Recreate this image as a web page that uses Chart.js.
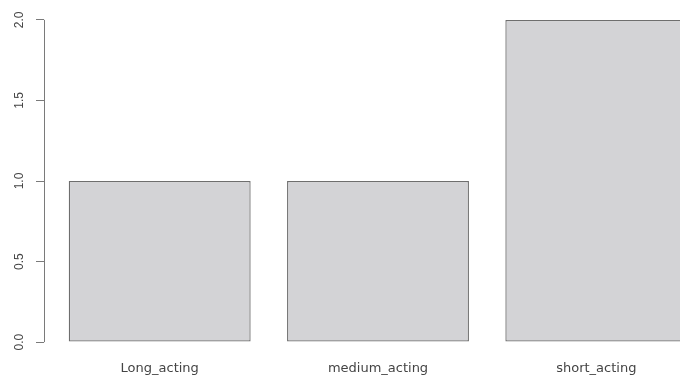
<!DOCTYPE html>
<html>
<head>
<meta charset="utf-8">
<script src="https://cdn.jsdelivr.net/npm/chart.js@4"></script>
<style>
  html, body { margin: 0; padding: 0; background: #fff; overflow: hidden; }
  #wrap { width: 680px; height: 377px; overflow: hidden; }
</style>
</head>
<body>
<div id="wrap">
  <canvas id="barChart" width="720" height="377"></canvas>
</div>
<script>
// data
const categories = ['Long_acting', 'medium_acting', 'short_acting'];
const counts = [1, 1, 2];
const yTicks = [0, 0.5, 1, 1.5, 2];

// R barplot geometry: width 1, space 0.2, axes padded by 4%
const barWidth = 1;
const barSpace = 0.2;
const centers = categories.map((c, i) => barSpace + barWidth / 2 + i * (barWidth + barSpace));
const xLo = barSpace;
const xHi = categories.length * (barWidth + barSpace);
const xPad = (xHi - xLo) * 0.04;
const yHi = Math.max(...counts);
const yPad = yHi * 0.04;

const axisColor = '#7a7a7a';

// y axis line drawn only between first and last tick, like R
const rAxisLine = {
    id: 'rAxisLine',
    afterDraw(chart) {
        const y = chart.scales.y;
        const x0 = chart.chartArea.left;
        const c = chart.ctx;
        c.save();
        c.strokeStyle = axisColor;
        c.lineWidth = 1;
        c.beginPath();
        c.moveTo(x0 + 0.5, y.getPixelForValue(yTicks[0]));
        c.lineTo(x0 + 0.5, y.getPixelForValue(yTicks[yTicks.length - 1]));
        c.stroke();
        c.restore();
    }
};

const ctx = document.getElementById('barChart');

new Chart(ctx, {
    type: 'bar',
    data: {
        datasets: [{
            data: centers.map((x, i) => ({ x: x, y: counts[i] })),
            backgroundColor: '#d3d3d6',
            borderColor: '#6e6e6e',
            borderWidth: 1.3,
            borderSkipped: false,
            barPercentage: barWidth / (barWidth + barSpace),
            categoryPercentage: 1
        }]
    },
    options: {
        responsive: false,
        animation: false,
        devicePixelRatio: 1,
        layout: { padding: { top: 7, right: 8, left: 0, bottom: 0 } },
        plugins: {
            legend: { display: false },
            tooltip: { enabled: false }
        },
        scales: {
            x: {
                type: 'linear',
                offset: false,
                min: xLo - xPad,
                max: xHi + xPad,
                afterBuildTicks: (scale) => { scale.ticks = centers.map(v => ({ value: v })); },
                afterFit: (scale) => {
                    scale.height = 22;
                    scale.paddingLeft = 0;
                    scale.paddingRight = 0;
                },
                grid: { display: false, drawTicks: false, offset: false },
                border: { display: false },
                ticks: {
                    autoSkip: false,
                    maxRotation: 0,
                    padding: 6,
                    color: '#444',
                    font: { family: 'DejaVu Sans', size: 13 },
                    callback: (v, i) => categories[i]
                }
            },
            y: {
                min: -yPad,
                max: yHi + yPad,
                afterBuildTicks: (scale) => { scale.ticks = yTicks.map(v => ({ value: v })); },
                afterFit: (scale) => {
                    scale.width = 44;
                    scale.paddingTop = 0;
                    scale.paddingBottom = 0;
                },
                grid: {
                    drawOnChartArea: false,
                    drawTicks: true,
                    tickLength: 8,
                    color: axisColor
                },
                border: { display: false },
                ticks: {
                    autoSkip: false,
                    minRotation: 90,
                    maxRotation: 90,
                    crossAlign: 'center',
                    padding: 8,
                    color: '#444',
                    font: { family: 'Liberation Sans', size: 12 },
                    callback: (v) => Number(v).toFixed(1)
                }
            }
        }
    },
    plugins: [rAxisLine]
});
</script>
</body>
</html>
